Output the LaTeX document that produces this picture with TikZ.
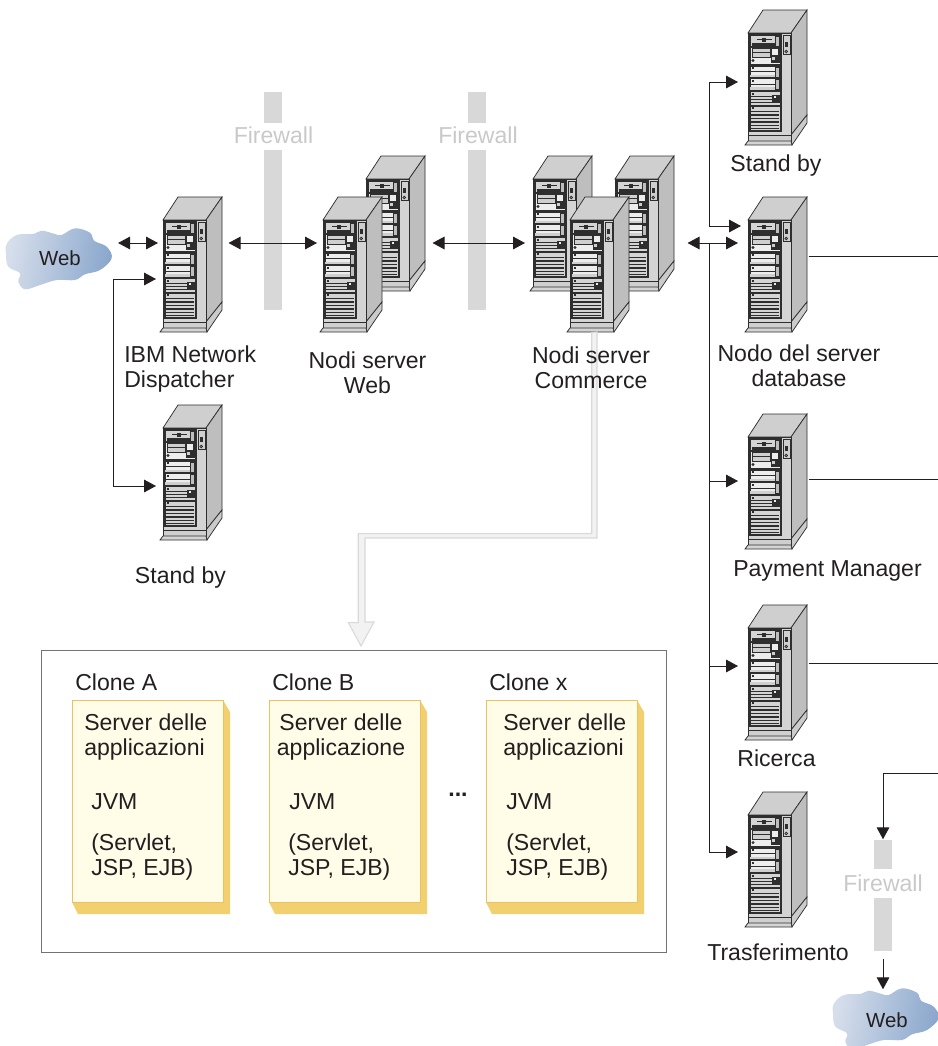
\documentclass[tikz,border=0pt]{standalone}
\usepackage{fontspec}
\setmainfont{Liberation Sans}
\usetikzlibrary{arrows.meta,calc}
\definecolor{ink}{HTML}{231F20}
\definecolor{fw}{HTML}{D8D8D8}
\definecolor{fwtext}{HTML}{C9C9C9}
\definecolor{srvtop}{HTML}{CFCFCF}
\definecolor{srvside}{HTML}{BEBEBE}
\definecolor{srvfront}{HTML}{D4D4D4}
\definecolor{srvpale}{HTML}{EDEDED}
\definecolor{srvdark}{HTML}{2E2E2E}
\definecolor{cardfill}{HTML}{FFFDE8}
\definecolor{cardedge}{HTML}{EDC25E}
\definecolor{cardshadow}{HTML}{F3D06F}
\definecolor{cloudL}{HTML}{D6DEEB}
\definecolor{cloudR}{HTML}{8AA7CC}
\tikzset{
  x=0.75pt,y=-0.75pt,
  lbl/.style={font=\fontsize{17.3}{18.75}\selectfont,text=ink,inner sep=0pt,align=center},
  lbll/.style={lbl,anchor=west,align=left},
  fwlbl/.style={font=\fontsize{17.3}{18.75}\selectfont,text=fwtext,inner sep=0pt},
  weblbl/.style={font=\fontsize{15.3}{18}\selectfont,text=ink,inner sep=0pt},
  fwbar/.style={fill=fw,draw=none},
  link/.style={draw=ink,line width=0.75pt},
  tip/.style={-{Triangle[length=9pt,width=9.5pt]}},
  tips/.style={{Triangle[length=9pt,width=9.5pt]}-{Triangle[length=9pt,width=9.5pt]}},
  srvnode/.style={anchor=north west,minimum width=32.25pt,minimum height=76.5pt,inner sep=0pt,draw=none},
  sl/.style={draw=srvdark,line width=0.55pt},
  card/.style={fill=cardfill,draw=cardedge,line width=0.8pt,anchor=north west,minimum width=113.25pt,minimum height=151.5pt,inner sep=0pt},
  server/.pic={
    \filldraw[sl,fill=srvtop] (0,0)--(15,-23)--(59,-23)--(43,0)--cycle;
    \filldraw[sl,fill=srvside] (43,0)--(59,-23)--(59,82)--(43,102)--cycle;
    \filldraw[sl,fill=srvside!80] (43,102)--(59,82)--(59,90)--(44,112)--(43,108)--cycle;
    \filldraw[sl,fill=srvfront] (0,0) rectangle (43,102);
    \filldraw[sl,fill=srvtop] (0,102) rectangle (43,108);
    \filldraw[sl,fill=srvfront] (-3,112)--(0,108)--(43,108)--(44,112)--cycle;
    \filldraw[sl,fill=srvdark] (1,1) rectangle (33,98);
    % bay 1
    \filldraw[sl,fill=srvfront] (2,2) rectangle (32,13);
    \fill[srvdark] (4,10) rectangle (27,12.5);
    \fill[srvdark] (9,6) rectangle (24,7.2);
    \fill[srvdark] (14,4.5) rectangle (18,8.5);
    \filldraw[sl,fill=srvside] (27,3) rectangle (31,13);
    % bay 2
    \filldraw[sl,fill=srvpale] (2,14) rectangle (32,31.5);
    \filldraw[sl,fill=srvtop] (4,15) rectangle (22,24);
    \draw[sl] (4,19)--(22,19);
    \filldraw[sl,fill=srvdark] (23,15) rectangle (31,29);
    \fill[srvpale] (24,16) rectangle (30,22);
    \fill[srvtop] (24,24) rectangle (27,27);
    \draw[sl] (5,27.5) circle (1);
    % bay 3, 4
    \foreach \t in {33,45.5}{
      \filldraw[sl,fill=srvpale] (2,\t) rectangle (32,\t+11.5);
      \fill[srvdark] (2,\t+5) rectangle (27,\t+6);
      \fill[srvtop] (2,\t+8.5) rectangle (27,\t+11);
      \filldraw[sl,fill=srvside] (27,\t+1) rectangle (31,\t+11);
      \fill[srvdark] (4,\t+1) rectangle (6,\t+3);
    }
    % bay 5
    \filldraw[sl,fill=srvfront] (2,58.5) rectangle (32,72);
    \foreach \t in {63,66,69}{\fill[srvdark] (2,\t) rectangle (32,\t+1);}
    \filldraw[sl,fill=srvdark] (24,62) rectangle (31,68);
    \fill[srvpale] (26,63) rectangle (28,65);
    \fill[srvdark] (4,60) rectangle (6,62);
    % bay 6
    \filldraw[sl,fill=srvfront] (2,73) rectangle (32,97);
    \foreach \t in {77.5,81,84.5,88,91.5,94.5}{\fill[srvdark] (3,\t) rectangle (31,\t+1.5);}
    \fill[srvdark] (4,74) rectangle (6,76);
    % side panel
    \filldraw[sl,fill=srvtop] (35,2) rectangle (42,21);
    \fill[srvdark] (37,9) rectangle (39.5,14);
    \draw[sl] (38.2,18.5) circle (1.3);
  },
  cloud/.pic={
    \shade[left color=cloudL,right color=cloudR,shading angle=80]
      plot[smooth cycle,tension=0.6] coordinates {
      (0.7,13) (10.7,4) (27,3) (35.7,-0.3) (49,3) (55.7,4) (69,-2.7) (84,1.7) (88,9.7)
      (100.7,15.7) (105.7,27.3) (94,39) (79,43.3) (69,49) (50.7,49) (34,54) (19,58.3)
      (12.3,50.7) (14,42.3) (2.3,35.7) (0,24)};
  }
}
\newcommand{\srv}[3]{%
  \pic at (#2,#3) {server};
  \node[srvnode] (#1) at (#2,#3) {};
}
\begin{document}
\begin{tikzpicture}
\useasboundingbox (0,0) rectangle (938,1046);
\clip (0,0) rectangle (938,1046);

% firewalls
\fill[fwbar] (264,92) rectangle (282,123);
\fill[fwbar] (264,150) rectangle (282,310);
\node[fwlbl] (fwA) at (273.5,135) {Firewall};
\fill[fwbar] (468,92) rectangle (486,123);
\fill[fwbar] (468,150) rectangle (486,310);
\node[fwlbl] (fwB) at (478,135) {Firewall};
\fill[fwbar] (874,840) rectangle (892,869);
\fill[fwbar] (874,898) rectangle (892,951);
\node[fwlbl] (fwC) at (883,883) {Firewall};

% clones box
\node[draw=black!55,line width=0.8pt,fill=white,anchor=north west,minimum width=468.75pt,minimum height=226.5pt,inner sep=0pt] (clones) at (41,650) {};

% servers
\srv{disp}{163}{220}
\srv{stdA}{163}{428}
\srv{webB}{366}{179}
\srv{webA}{323}{220}
\srv{comA}{533}{179}
\srv{comB}{615}{179}
\srv{comC}{570}{220}
\srv{stdB}{748}{33}
\srv{db}{748}{220}
\srv{pay}{748}{437}
\srv{ric}{748}{628}
\srv{tra}{748}{815}

% grey flow arrow from Commerce to the clones box
\filldraw[fill=black!5,draw=black!15,line width=0.8pt]
  ($(comC.south)+(0,10)$) -- ++(0,201) -- ++(-233.5,0) -- ++(0,89) -- ++(-10,0)
  -- ($(clones.north west)+(320,-4)$) -- ++(13,-24) -- ++(-9,0) -- ++(0,-84) -- ++(232,0) -- ++(0,-206) -- cycle;

% clouds
\pic at (6,231) {cloud};
\node[weblbl] (webL) at (60,258) {Web};
\pic at (833,991) {cloud};
\node[weblbl] (webR) at (887,1020) {Web};

% connectors
\draw[link,tips] (webL.east |- {$(disp.north west)+(0,23)$}) ++(37,0) -- ($(disp.north west)+(-5,23)$);
\draw[link,tips] ($(disp.north west)+(-7,59)$) -- ++(-43,0) |- ($(stdA.north west)+(-7,58)$);
\draw[link,tips] ($(disp.north east)+(22,23)$) -- ($(webA.north west)+(-6,23)$);
\draw[link,tips] ($(webA.north east)+(66,23)$) -- ($(comA.north west)+(-8,64)$);
\draw[link,tips] ($(comB.north east)+(29,64)$) -- ($(db.north west)+(-10,23)$);
\draw[link,tips] ($(stdB.north west)+(-10,49)$) -- ++(-29,0) |- ($(db.north west)+(-7,6)$);
\coordinate (bus) at ($(db.north west)+(-39,23)$);
\draw[link] (bus) -- ($(tra.north west)+(-39,37)$);
\draw[link,tip] (bus) |- ($(pay.north west)+(-10,44)$);
\draw[link,tip] (bus) |- ($(ric.north west)+(-10,38)$);
\draw[link,tip] (bus) |- ($(tra.north west)+(-10,37)$);
\coordinate (edgeA) at (938,256);
\coordinate (edgeB) at (938,479);
\coordinate (edgeC) at (938,663);
\coordinate (edgeD) at (938,773);
\draw[link] ($(db.north east)+(17,36)$) -- (edgeA);
\draw[link] ($(pay.north east)+(17,42)$) -- (edgeB);
\draw[link] ($(ric.north east)+(17,35)$) -- (edgeC);
\draw[link,tip] (edgeD) -| ($(fwC.north)+(0,-35)$);
\draw[link,tip] ($(fwC.south)+(0,67)$) -- ($(webR.north)+(-4,-23)$);

% labels
\node[lbll] (lDisp) at (124,369.5) {IBM Network\\Dispatcher};
\node[lbl] (lStdA) at (180.5,578) {Stand by};
\node[lbl] (lWeb) at (367.5,373) {Nodi server\\Web};
\node[lbl] (lCom) at (591,367.5) {Nodi server\\Commerce};
\node[lbl] (lStdB) at (776,166) {Stand by};
\node[lbl] (lDb) at (799,365.5) {Nodo del server\\database};
\node[lbl] (lPay) at (827.5,571) {Payment Manager};
\node[lbl] (lRic) at (776.5,758) {Ricerca};
\node[lbl] (lTra) at (778,952) {Trasferimento};

% clone cards
\foreach \cx/\nm/\cl in {72/a/Clone A,269/b/Clone B,486/c/Clone x}{
  \fill[cardshadow] (\cx+151,700) -- (\cx+158,712) -- (\cx+158,914) -- (\cx+6,914) -- (\cx,902) -- cycle;
  \node[card] (card\nm) at (\cx,700) {};
  \node[lbll] (title\nm) at (\cx+3,682) {\cl};
}
\node[lbll] (ca1) at (84,737) {Server delle\\applicazioni};
\node[lbll] (ca2) at (91,802) {JVM};
\node[lbll] (ca3) at (91,857.5) {(Servlet,\\JSP, EJB)};
\node[lbl,anchor=center] (cb1) at (341,737) {Server delle\\applicazione};
\node[lbll] (cb2) at (289,802) {JVM};
\node[lbll] (cb3) at (288,857.5) {(Servlet,\\JSP, EJB)};
\node[lbll] (cc1) at (503,737) {Server delle\\applicazioni};
\node[lbll] (cc2) at (506,802) {JVM};
\node[lbll] (cc3) at (506,857.5) {(Servlet,\\JSP, EJB)};
\node[lbl] (dots) at (458,795) {\textbf{...}};
\end{tikzpicture}
\end{document}
